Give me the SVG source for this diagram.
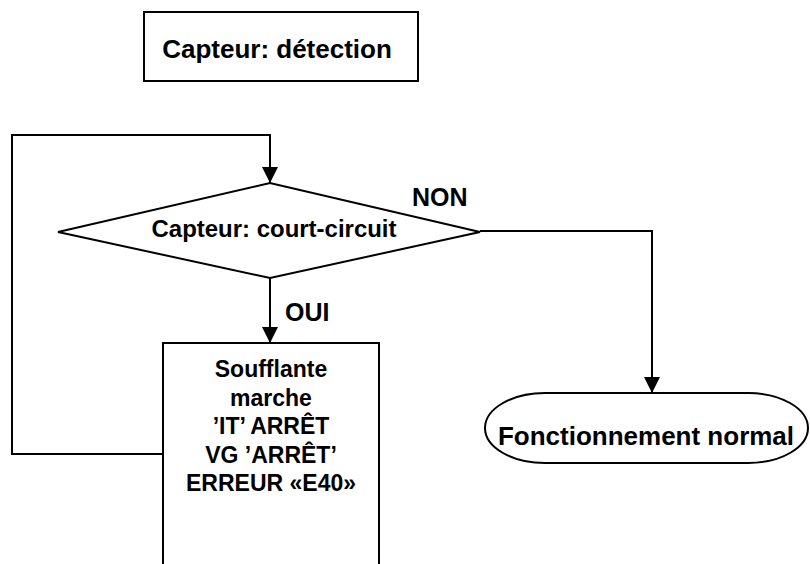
<svg xmlns="http://www.w3.org/2000/svg" width="810" height="564" viewBox="0 0 810 564">
<style>
.shape{fill:#fff;stroke:#000;stroke-width:2}
.line{fill:none;stroke:#000;stroke-width:2}
text{font-family:"Liberation Sans",Arial,sans-serif;font-weight:bold;fill:#000}
.c{text-anchor:middle}
.b{font-size:23px}
</style>
<defs>
<marker id="arrow" markerUnits="userSpaceOnUse" markerWidth="16" markerHeight="16" viewBox="0 0 16 16" refX="16" refY="8" orient="auto">
<path d="M0,0 L16,8 L0,16 Z" fill="#000"/>
</marker>
</defs>
<rect width="810" height="564" fill="#fff"/>
<g id="connectors">
<polyline class="line" points="163,454 12,454 12,135 270,135 270,183" marker-end="url(#arrow)"/>
<polyline class="line" points="480,231 652,231 652,393" marker-end="url(#arrow)"/>
<line class="line" x1="270" y1="278" x2="270" y2="343" marker-end="url(#arrow)"/>
<text x="412" y="206" font-size="25">NON</text>
<text x="285" y="321" font-size="25">OUI</text>
</g>
<g id="capteur-detection">
<rect class="shape" x="144" y="12" width="274" height="69"/>
<text class="c" x="277" y="58" font-size="26">Capteur: détection</text>
</g>
<g id="court-circuit">
<polygon class="shape" points="58,232 270,183 480,232 270,278"/>
<text class="c" x="274" y="237" font-size="24" textLength="245" lengthAdjust="spacingAndGlyphs">Capteur: court-circuit</text>
</g>
<g id="soufflante">
<rect class="shape" x="163" y="343" width="216" height="240"/>
<text class="c b" x="271" y="377">Soufflante</text>
<text class="c b" x="271" y="405.5">marche</text>
<text class="c b" x="271" y="434">’IT’ ARRÊT</text>
<text class="c b" x="271" y="462.5">VG ’ARRÊT’</text>
<text class="c b" x="271" y="491">ERREUR «E40»</text>
</g>
<g id="fonctionnement-normal">
<rect class="shape" x="485" y="393" width="323" height="70" rx="60" ry="36"/>
<text class="c" x="646" y="445" font-size="26">Fonctionnement normal</text>
</g>
</svg>
